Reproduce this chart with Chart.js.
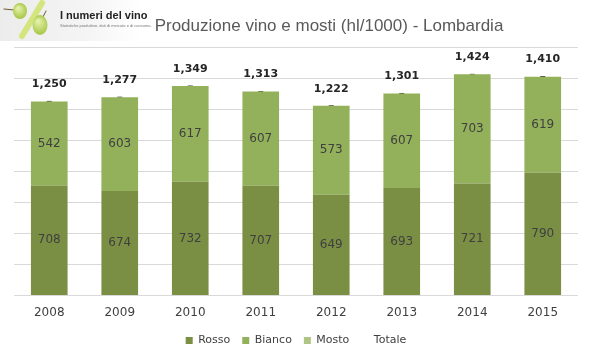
<!DOCTYPE html>
<html>
<head>
<meta charset="utf-8">
<script src="https://cdn.jsdelivr.net/npm/chart.js@4.4.1/dist/chart.umd.min.js"></script>
<style>
  html, body { margin: 0; padding: 0; background: #fff; }
  #wrap { width: 593px; height: 360px; position: relative; }
</style>
</head>
<body>
<div id="wrap"><canvas id="vinoChart"></canvas></div>
<script>
// dati (hl/1000)
const anni = ['2008', '2009', '2010', '2011', '2012', '2013', '2014', '2015'];
const rosso = [708, 674, 732, 707, 649, 693, 721, 790];
const bianco = [542, 603, 617, 607, 573, 607, 703, 619];
const mosto = [0, 0, 0, 0, 0, 0, 0, 0];
const totale = [1250, 1277, 1349, 1313, 1222, 1301, 1424, 1410];
const yTicks = [0, 200, 400, 600, 800, 1000, 1200, 1400, 1600];

const titolo = 'Produzione vino e mosti (hl/1000) - Lombardia';
const FONT = '"DejaVu Sans", Verdana, sans-serif';

// logo + titolo in alto
const headerPlugin = {
    id: 'header',
    beforeDraw(chart) {
        const ctx = chart.ctx;
        ctx.save();
        let g = ctx.createLinearGradient(0, 0, 140, 0);
        g.addColorStop(0, '#ececec');
        g.addColorStop(0.6, '#f4f4f4');
        g.addColorStop(1, '#ffffff');
        ctx.fillStyle = g;
        ctx.fillRect(0, 0, 141, 41);

        // barra del "%"
        ctx.strokeStyle = '#d4e57e';
        ctx.lineWidth = 6;
        ctx.lineCap = 'round';
        ctx.beginPath();
        ctx.moveTo(22, 36);
        ctx.lineTo(42, 3);
        ctx.stroke();

        // acini
        ctx.strokeStyle = '#6b5a2a';
        ctx.lineWidth = 1;
        ctx.beginPath();
        ctx.moveTo(4, 9); ctx.lineTo(14, 10);
        ctx.moveTo(43, 17); ctx.lineTo(46, 11);
        ctx.stroke();
        let gr = ctx.createRadialGradient(18, 8, 1, 20, 11, 8);
        gr.addColorStop(0, '#e3f0a8');
        gr.addColorStop(1, '#a4c543');
        ctx.fillStyle = gr;
        ctx.beginPath();
        ctx.ellipse(20, 11, 7, 8, 0, 0, Math.PI * 2);
        ctx.fill();
        gr = ctx.createRadialGradient(38, 21, 1, 40, 25, 10);
        gr.addColorStop(0, '#e3f0a8');
        gr.addColorStop(1, '#a4c543');
        ctx.fillStyle = gr;
        ctx.beginPath();
        ctx.ellipse(40, 25, 7.5, 10, 0, 0, Math.PI * 2);
        ctx.fill();

        ctx.fillStyle = '#222';
        ctx.textBaseline = 'middle';
        ctx.textAlign = 'left';
        ctx.font = 'bold 11px "Liberation Sans Narrow", "Liberation Sans", Arial, sans-serif';
        ctx.fillText('I numeri del vino', 60, 16);
        ctx.fillStyle = '#777';
        ctx.font = '4px "Liberation Sans", Arial, sans-serif';
        ctx.fillText('Statistiche produttive, dati di mercato e di consumo.', 60, 26);

        // titolo
        ctx.fillStyle = '#595959';
        ctx.font = '17px "Liberation Sans", Arial, sans-serif';
        ctx.textAlign = 'center';
        ctx.fillText(titolo, 329, 26);
        ctx.restore();
    }
};

// etichette dei valori
const etichettePlugin = {
    id: 'etichette',
    afterDatasetsDraw(chart) {
        const ctx = chart.ctx;
        ctx.save();
        ctx.textAlign = 'center';
        ctx.textBaseline = 'middle';
        [0, 1].forEach(function(di) {
            const ds = chart.data.datasets[di];
            chart.getDatasetMeta(di).data.forEach(function(bar, i) {
                if (!ds.data[i]) return;
                ctx.fillStyle = '#404040';
                ctx.font = '12px ' + FONT;
                ctx.fillText(ds.data[i], bar.x, (bar.y + bar.base) / 2);
            });
        });
        chart.getDatasetMeta(3).data.forEach(function(pt, i) {
            ctx.fillStyle = '#262626';
            ctx.font = 'bold 11px ' + FONT;
            ctx.fillText(totale[i].toLocaleString('en-US'), pt.x, pt.y - 17);
        });
        ctx.restore();
    }
};

new Chart(document.getElementById('vinoChart'), {
    type: 'bar',
    data: {
        labels: anni,
        datasets: [
            { label: 'Rosso', data: rosso, backgroundColor: '#7a8e44', stack: 'vino' },
            { label: 'Bianco', data: bianco, backgroundColor: '#93b05a', stack: 'vino' },
            { label: 'Mosto', data: mosto, backgroundColor: '#afc584', stack: 'vino' },
            {
                label: 'Totale', type: 'line', data: totale, stack: 'tot',
                showLine: false,
                backgroundColor: 'rgba(0,0,0,0)', borderColor: 'rgba(0,0,0,0)',
                pointStyle: 'line', pointRadius: 2.5, pointBorderWidth: 1,
                pointBorderColor: '#404040', pointBackgroundColor: '#404040'
            }
        ]
    },
    options: {
        responsive: true,
        maintainAspectRatio: false,
        animation: false,
        layout: { padding: { top: 47, left: 14, right: 15, bottom: 4 } },
        datasets: { bar: { categoryPercentage: 1, barPercentage: 0.52 } },
        scales: {
            x: {
                stacked: true,
                grid: { display: false, drawTicks: false },
                border: { display: false },
                ticks: { color: '#404040', font: { family: FONT, size: 12 }, padding: 10 },
                afterFit: function(scale) { scale.height -= 7; }
            },
            y: {
                stacked: true,
                min: yTicks[0],
                max: yTicks[yTicks.length - 1],
                afterBuildTicks: function(scale) {
                    scale.ticks = yTicks.map(function(v) { return { value: v }; });
                },
                afterFit: function(scale) { scale.width = 0; },
                ticks: { display: false },
                grid: { color: '#d9d9d9', drawTicks: false },
                border: { display: false }
            }
        },
        plugins: {
            legend: {
                position: 'bottom',
                labels: {
                    boxWidth: 7, boxHeight: 7, padding: 12,
                    color: '#404040', font: { family: FONT, size: 11 }
                }
            },
            tooltip: { enabled: false }
        }
    },
    plugins: [headerPlugin, etichettePlugin]
});
</script>
</body>
</html>
